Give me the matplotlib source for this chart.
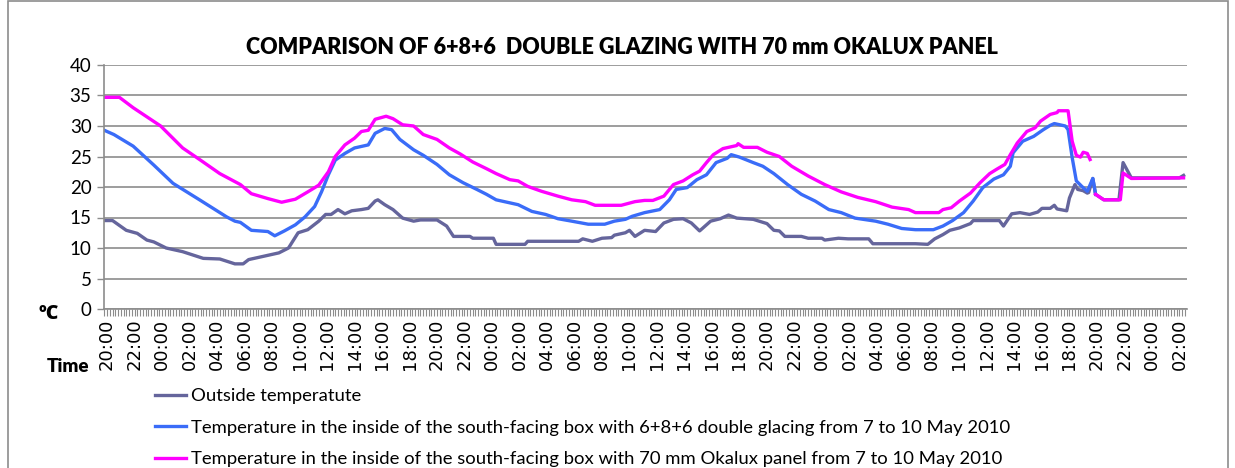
import matplotlib
matplotlib.use('Agg')
import matplotlib.pyplot as plt
import numpy as np
from matplotlib.patches import Rectangle
from matplotlib.lines import Line2D

# hours since 20:00 on 7 May
out_h = [-0.2, 0.4, 1.4, 2.2, 2.9, 3.4, 4.3, 5.5, 7.0, 8.2, 9.3, 9.9, 10.3, 11.5, 12.5,
         13.2, 13.9, 14.6, 15.4, 15.9, 16.3, 16.8, 17.3, 17.8, 18.5, 19.0, 19.5, 19.7,
         20.2, 20.8, 21.5, 22.3, 22.8, 24.0, 24.7, 25.2, 26.4, 26.6, 28.1, 28.3, 30.4,
         30.6, 34.3, 34.6, 35.3, 36.0, 36.7, 36.9, 37.7, 38.0, 38.4, 39.1, 39.9, 40.5,
         41.2, 41.9, 42.5, 43.1, 43.9, 44.6, 45.2, 45.8, 47.0, 48.0, 48.5, 48.9, 49.3,
         50.5, 51.0, 52.0, 52.2, 53.2, 53.9, 55.4, 55.7, 58.8, 59.7, 60.2, 60.8, 61.3,
         62.0, 62.8, 63.0, 64.9, 65.2, 65.8, 66.4, 67.1, 67.7, 68.0, 68.6, 68.9, 69.1,
         69.8, 70.0, 70.4, 70.6, 71.0, 71.3, 71.4, 71.7, 71.9, 72.5, 73.6, 73.9, 74.5,
         78.0, 78.3]
out_t = [14.5, 14.5, 12.9, 12.4, 11.3, 11.0, 10.0, 9.4, 8.3, 8.2, 7.4, 7.4, 8.1, 8.7, 9.2,
         10.0, 12.5, 13.0, 14.4, 15.5, 15.5, 16.3, 15.6, 16.1, 16.3, 16.5, 17.7, 17.9,
         17.1, 16.3, 14.9, 14.4, 14.6, 14.6, 13.6, 11.9, 11.9, 11.6, 11.6, 10.6, 10.6,
         11.1, 11.1, 11.5, 11.1, 11.6, 11.7, 12.1, 12.5, 12.9, 11.9, 12.9, 12.7, 14.1,
         14.7, 14.8, 14.1, 12.8, 14.4, 14.8, 15.4, 14.9, 14.7, 14.0, 12.9, 12.8, 11.9,
         11.9, 11.6, 11.6, 11.3, 11.6, 11.5, 11.5, 10.7, 10.7, 10.6, 11.5, 12.2, 12.9,
         13.3, 14.0, 14.5, 14.5, 13.6, 15.6, 15.8, 15.5, 15.9, 16.5, 16.5, 17.0, 16.4,
         16.1, 18.2, 20.4, 19.6, 19.4, 19.0, 19.1, 21.4, 18.8, 17.9, 17.9, 24.0, 21.5,
         21.5, 21.9]

dbl_h = [-0.2, 0.5, 1.9, 3.4, 4.8, 6.8, 8.7, 9.3, 9.7, 10.5, 11.7, 12.2, 12.9, 13.7, 14.4,
         15.1, 15.6, 16.1, 16.6, 17.3, 18.0, 19.0, 19.5, 20.2, 20.7, 21.3, 22.3, 23.0,
         24.0, 24.9, 25.9, 26.9, 27.6, 28.3, 29.3, 29.9, 30.9, 31.9, 32.8, 33.8, 35.0,
         36.2, 36.9, 37.7, 38.2, 39.1, 40.2, 40.9, 41.4, 42.2, 42.9, 43.6, 44.3, 45.1,
         45.4, 46.0, 47.0, 47.7, 48.5, 49.5, 50.5, 51.5, 52.5, 53.4, 54.4, 55.9, 56.8,
         57.8, 58.8, 60.1, 60.8, 61.5, 62.3, 63.0, 63.7, 64.5, 65.2, 65.7, 65.9, 66.6,
         67.4, 68.1, 68.6, 68.9, 69.7, 69.9, 70.2, 70.5, 70.9, 71.3, 71.7, 71.9]
dbl_t = [29.3, 28.6, 26.7, 23.6, 20.6, 17.8, 15.1, 14.4, 14.2, 12.9, 12.7, 12.0, 12.8, 13.8,
         15.1, 16.8, 19.2, 22.0, 24.4, 25.5, 26.4, 26.9, 28.8, 29.6, 29.4, 27.8, 26.1,
         25.2, 23.7, 22.0, 20.7, 19.6, 18.8, 17.9, 17.4, 17.1, 16.0, 15.5, 14.8, 14.4,
         13.9, 13.9, 14.4, 14.7, 15.2, 15.8, 16.3, 17.9, 19.6, 19.9, 21.2, 22.0, 24.0,
         24.7, 25.3, 24.9, 24.0, 23.4, 22.2, 20.4, 18.8, 17.7, 16.3, 15.8, 14.9, 14.4,
         13.9, 13.2, 13.0, 13.0, 13.6, 14.5, 15.8, 17.7, 19.9, 21.3, 22.0, 23.4, 25.6,
         27.5, 28.3, 29.4, 30.1, 30.4, 30.0, 29.4, 24.8, 21.0, 20.1, 19.3, 21.4, 18.8]

oka_h = [-0.2, 0.9, 1.9, 3.9, 5.5, 6.8, 8.2, 9.7, 10.5, 11.7, 12.7, 13.7, 14.6, 15.4, 16.1,
         16.6, 17.3, 18.0, 18.5, 19.0, 19.5, 20.3, 20.8, 21.5, 22.3, 23.0, 24.0, 24.9,
         25.7, 26.6, 27.6, 28.3, 29.3, 29.9, 30.6, 31.6, 32.8, 33.8, 34.8, 35.5, 37.4,
         38.4, 39.1, 39.7, 40.5, 41.2, 41.9, 42.6, 43.1, 43.6, 44.1, 44.8, 45.8, 45.9,
         46.3, 47.3, 48.0, 48.9, 49.8, 51.0, 52.2, 53.4, 54.6, 55.9, 57.1, 58.3, 58.8,
         60.5, 60.8, 61.4, 62.0, 62.8, 63.5, 64.2, 64.7, 65.3, 65.7, 66.2, 66.9, 67.5,
         67.9, 68.6, 69.1, 69.2, 69.9, 70.2, 70.5, 70.8, 71.0, 71.3, 71.5, 71.7, 71.9,
         72.5, 73.7, 73.9, 74.5, 78.3]
oka_t = [34.7, 34.7, 33.0, 30.0, 26.4, 24.4, 22.2, 20.4, 18.9, 18.1, 17.5, 18.0, 19.2, 20.3,
         22.5, 25.0, 26.9, 28.0, 29.1, 29.3, 31.1, 31.6, 31.2, 30.2, 30.0, 28.6, 27.8,
         26.4, 25.4, 24.1, 23.0, 22.2, 21.2, 21.0, 20.1, 19.3, 18.5, 17.9, 17.6, 17.0,
         17.0, 17.6, 17.8, 17.8, 18.5, 20.4, 21.0, 22.0, 22.6, 24.0, 25.3, 26.3, 26.8,
         27.1, 26.5, 26.5, 25.7, 25.0, 23.4, 21.8, 20.4, 19.2, 18.3, 17.6, 16.7, 16.3,
         15.8, 15.8, 16.3, 16.6, 17.7, 19.0, 20.7, 22.2, 22.9, 23.7, 25.3, 27.2, 29.1,
         29.7, 30.8, 31.9, 32.2, 32.5, 32.5, 27.5, 25.2, 24.9, 25.7, 25.5, 24.5, np.nan,
         18.8, 17.9, 17.9, 22.3, 21.4, 21.5]

tick_hours = list(range(0, 80, 2))
tick_labels = ['%02d:00' % ((20 + h) % 24) for h in tick_hours]

series_names = ['Outside temperatute',
                'Temperature in the inside of the south-facing box with 6+8+6 double glacing from 7 to 10 May 2010',
                'Temperature in the inside of the south-facing box with 70 mm Okalux panel from 7 to 10 May 2010']
colors = ['#65659c', '#3a6cf8', '#ff00ff']

W, H = 1235, 468
fig = plt.figure(figsize=(W / 100, H / 100), dpi=100)
fnt = 'Lato'

# chart area border
fig.patches.append(Rectangle((8 / W, -0.05), (1228 - 8) / W, 1.05 - 1.5 / H,
                             transform=fig.transFigure, fill=False,
                             edgecolor='#8c8c8c', linewidth=1.2))

ax = fig.add_axes([104 / W, 1 - 309 / H, (1187 - 104) / W, (309 - 65) / H])
ax.plot(out_h, out_t, color=colors[0], lw=2.4, solid_joinstyle='round')
ax.plot(dbl_h, dbl_t, color=colors[1], lw=2.4, solid_joinstyle='round')
ax.plot(oka_h, oka_t, color=colors[2], lw=2.4, solid_joinstyle='round')

ax.set_xlim(-0.22, 78.55)
ax.set_ylim(0, 40)
ax.set_yticks(range(0, 41, 5))
ax.yaxis.grid(True, color='#8c8c8c', lw=1.2)
ax.set_axisbelow(True)
for s in ['top', 'right']:
    ax.spines[s].set_visible(False)
for s in ['left', 'bottom']:
    ax.spines[s].set_color('#8c8c8c')
    ax.spines[s].set_linewidth(1.2)

ax.set_xticks(tick_hours)
ax.set_xticklabels(tick_labels, rotation=90, fontsize=13, family='DejaVu Sans')
ax.set_xticks(np.arange(-0.2, 78.6, 0.2), minor=True)
ax.tick_params(axis='x', which='both', length=5, color='#8c8c8c', width=0.8, pad=2)
ax.tick_params(axis='y', length=5, color='#8c8c8c', width=1, pad=4)
for lb in ax.get_yticklabels():
    lb.set_fontsize(13.5)
    lb.set_family(fnt)

fig.text(622 / W, 1 - 47 / H, 'COMPARISON OF 6+8+6  DOUBLE GLAZING WITH 70 mm OKALUX PANEL',
         ha='center', va='center', fontsize=15.5, fontweight='heavy', family=fnt)
fig.text(49 / W, 1 - 314 / H, 'ºC', ha='center', va='center', fontsize=14,
         fontweight='heavy', family=['Open Sans', 'DejaVu Sans'])
fig.text(68 / W, 1 - 366 / H, 'Time', ha='center', va='center', fontsize=13.5,
         fontweight='heavy', family=fnt)

handles = [Line2D([], [], color=c, lw=2.4) for c in colors]
fig.legend(handles, series_names, loc='upper left',
           bbox_to_anchor=(155 / W, 1 - 388 / H), frameon=False,
           prop={'family': fnt, 'size': 13.3}, handlelength=1.7, handletextpad=0.25,
           labelspacing=0.85, borderpad=0, borderaxespad=0)

fig.savefig('out.png', dpi=100)
